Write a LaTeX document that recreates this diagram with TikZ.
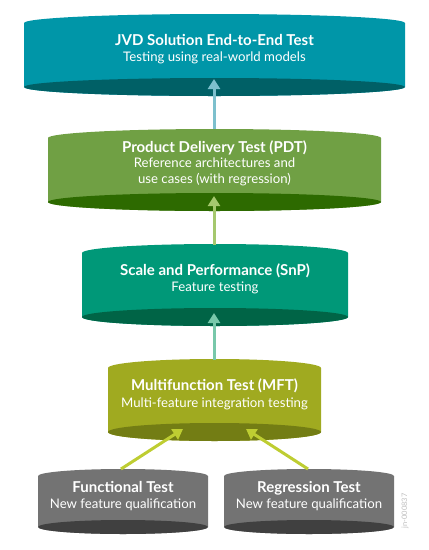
\documentclass[tikz,border=0pt]{standalone}
\usepackage{fontspec}
\setmainfont{Lato}
\usetikzlibrary{arrows.meta}
\definecolor{jvdbody}{RGB}{0,150,168}
\definecolor{jvddark}{RGB}{0,96,102}
\definecolor{pdtbody}{RGB}{112,160,68}
\definecolor{pdtdark}{RGB}{45,106,0}
\definecolor{snpbody}{RGB}{0,152,120}
\definecolor{snpdark}{RGB}{0,100,70}
\definecolor{mftbody}{RGB}{160,170,32}
\definecolor{mftdark}{RGB}{115,125,20}
\definecolor{greybody}{RGB}{115,115,115}
\definecolor{greydark}{RGB}{64,64,64}
\definecolor{arrA}{RGB}{125,192,205}
\definecolor{arrB}{RGB}{165,200,110}
\definecolor{arrC}{RGB}{120,200,170}
\definecolor{arrD}{RGB}{190,205,50}
\definecolor{wm}{RGB}{190,190,190}
% \cylshape{xl}{xr}{ytop}{ybot}{ry}{body}{dark}
\newcommand{\cylshape}[7]{%
  \pgfmathsetmacro{\cylrx}{(#2-#1)/2}%
  \pgfmathsetmacro{\cylcx}{(#2+#1)/2}%
  \fill[#6] (#1,#3) arc[start angle=180,end angle=0,x radius=\cylrx pt,y radius=#5 pt]
     -- (#2,#4) arc[start angle=0,end angle=-180,x radius=\cylrx pt,y radius=#5 pt] -- cycle;
  \fill[#7] (\cylcx,#4) ellipse[x radius=\cylrx pt,y radius=#5 pt];
}
\begin{document}
\begin{tikzpicture}[x=1pt,y=1pt,
  ttl/.style={text=white,font=\fontsize{15}{17}\selectfont\bfseries,anchor=base,inner sep=0pt},
  sub/.style={text=white,font=\fontsize{13.2}{15}\selectfont,anchor=base,inner sep=0pt},
  upa/.style={line width=3pt,-{Triangle[width=12pt,length=10pt]}}]
\useasboundingbox (0,0) rectangle (429,-550);
% cylinders
\cylshape{24}{405}{-23}{-87}{9}{jvdbody}{jvddark}
\cylshape{48}{381}{-138}{-202}{9}{pdtbody}{pdtdark}
\cylshape{82}{348}{-253}{-317}{9}{snpbody}{snpdark}
\cylshape{108}{321}{-368}{-432}{9}{mftbody}{mftdark}
\cylshape{38}{208}{-476}{-527}{7}{greybody}{greydark}
\cylshape{224}{394}{-476}{-527}{7}{greybody}{greydark}
% texts
\node[ttl] (jvd) at (214.5,-45) {JVD Solution End-to-End Test};
\node[sub] (jvdsub) at (214.5,-61) {Testing using real-world models};
\node[ttl] (pdt) at (214.5,-152) {Product Delivery Test (PDT)};
\node[sub] (pdtsubA) at (214.5,-167) {Reference architectures and};
\node[sub] (pdtsubB) at (214.5,-183) {use cases (with regression)};
\node[ttl] (snp) at (215,-275) {Scale and Performance (SnP)};
\node[sub] (snpsub) at (215,-291) {Feature testing};
\node[ttl] (mft) at (214.5,-390) {Multifunction Test (MFT)};
\node[sub] (mftsub) at (214.5,-407) {Multi-feature integration testing};
\node[ttl] (fun) at (123,-492) {Functional Test};
\node[sub] (funsub) at (123,-508) {New feature qualification};
\node[ttl] (reg) at (309,-492) {Regression Test};
\node[sub] (regsub) at (309,-508) {New feature qualification};
\node[text=wm,font=\fontsize{7.5}{9}\selectfont,rotate=90,inner sep=0pt] (wmk) at (405,-511) {jn-000837};
% connector ends
\coordinate (jvdin) at (214,-79);
\coordinate (pdttop) at (214,-129);
\coordinate (pdtin) at (214,-196);
\coordinate (snptop) at (214,-245);
\coordinate (snpin) at (214,-313);
\coordinate (mfttop) at (214,-360);
\coordinate (mftinL) at (183,-429);
\coordinate (mftinR) at (246,-429);
\coordinate (funtop) at (121,-469);
\coordinate (regtop) at (308,-469);
% arrows
\draw[upa,arrA] (pdttop) -- (jvdin);
\draw[upa,arrB] (snptop) -- (pdtin);
\draw[upa,arrC] (mfttop) -- (snpin);
\draw[upa,arrD] (funtop) -- (mftinL);
\draw[upa,arrD] (regtop) -- (mftinR);
\end{tikzpicture}
\end{document}
